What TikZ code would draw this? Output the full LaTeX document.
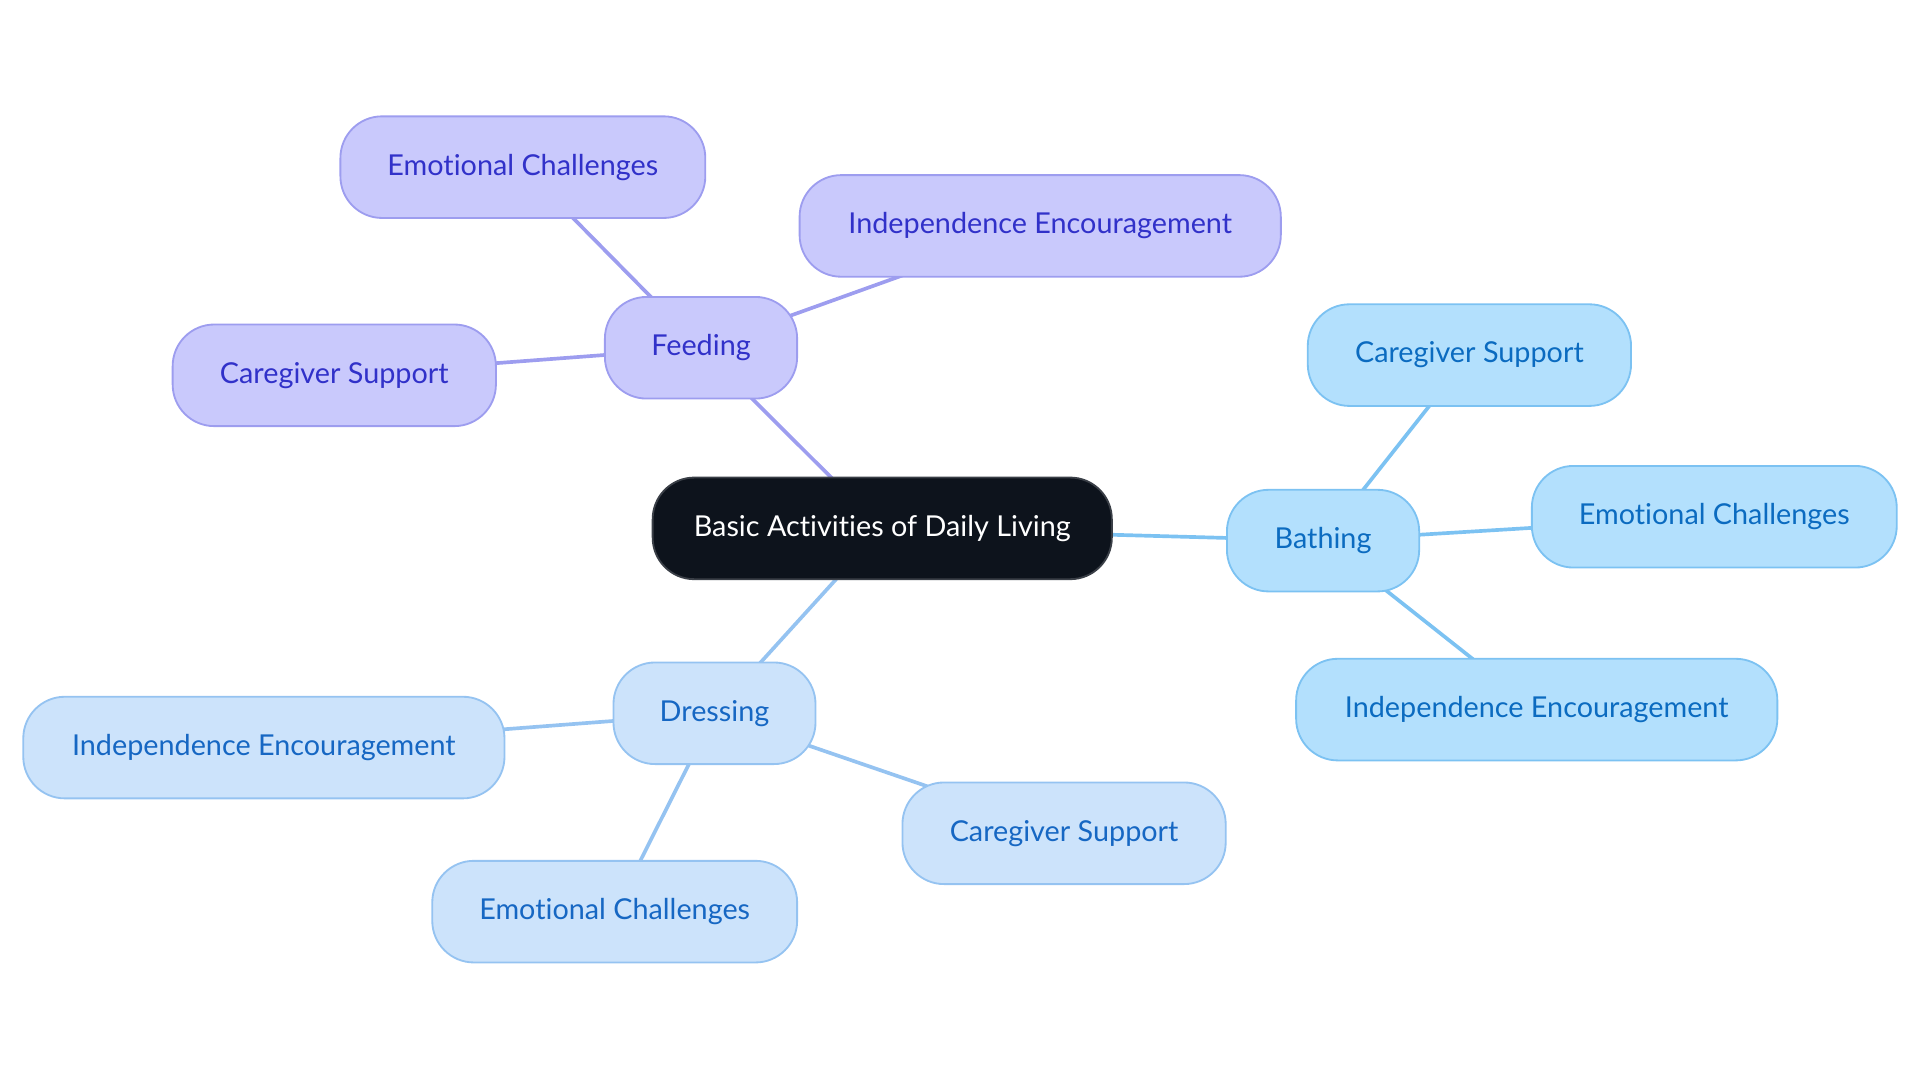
\documentclass[tikz,border=0pt]{standalone}
\usepackage{fontspec}
\setmainfont{Lato}[Ligatures=NoCommon]
\usetikzlibrary{backgrounds}
\definecolor{rootfill}{HTML}{0D131C}
\definecolor{rootdraw}{HTML}{3A3F47}
\definecolor{feedfill}{HTML}{C9C9FC}
\definecolor{feeddraw}{HTML}{9D9DEF}
\definecolor{feedtext}{HTML}{3131C9}
\definecolor{bathfill}{HTML}{B3E0FD}
\definecolor{bathdraw}{HTML}{7CC2F2}
\definecolor{bathtext}{HTML}{0B6BC0}
\definecolor{dressfill}{HTML}{CCE3FB}
\definecolor{dressdraw}{HTML}{95C3F1}
\definecolor{dresstext}{HTML}{1667C3}
\tikzset{
  base/.style={rounded corners=34pt, minimum height=83pt, inner sep=0pt, line width=1.5pt,
    font=\fontsize{23.5}{28}\selectfont},
  rootbox/.style={base, fill=rootfill, draw=rootdraw, text=white},
  feedbox/.style={base, fill=feedfill, draw=feeddraw, text=feedtext},
  bathbox/.style={base, fill=bathfill, draw=bathdraw, text=bathtext},
  dressbox/.style={base, fill=dressfill, draw=dressdraw, text=dresstext},
  feededge/.style={draw=feeddraw, line width=3pt},
  bathedge/.style={draw=bathdraw, line width=3pt},
  dressedge/.style={draw=dressdraw, line width=3pt}
}
\begin{document}
\begin{tikzpicture}[x=1pt,y=-1pt]
\useasboundingbox (0,0) rectangle (1568,884);
\node[rootbox, minimum width=375pt] (root) at (720.5,431.5) {Basic Activities of Daily Living};
% Feeding
\node[feedbox, minimum width=157pt] (feed) at (572.5,284) {Feeding};
\node[feedbox, minimum width=298pt] (feedemo) at (427,136.5) {Emotional Challenges};
\node[feedbox, minimum width=393pt] (feedind) at (849.5,184.5) {Independence Encouragement};
\node[feedbox, minimum width=264pt] (feedcare) at (273,306.5) {Caregiver Support};
% Bathing
\node[bathbox, minimum width=157pt] (bath) at (1080.5,441.5) {Bathing};
\node[bathbox, minimum width=264pt] (bathcare) at (1200,290) {Caregiver Support};
\node[bathbox, minimum width=298pt] (bathemo) at (1400,422) {Emotional Challenges};
\node[bathbox, minimum width=393pt] (bathind) at (1255,579.5) {Independence Encouragement};
% Dressing
\node[dressbox, minimum width=165pt] (dress) at (583.5,582.5) {Dressing};
\node[dressbox, minimum width=393pt] (dressind) at (215.5,610.5) {Independence Encouragement};
\node[dressbox, minimum width=264pt] (dresscare) at (869,680.5) {Caregiver Support};
\node[dressbox, minimum width=298pt] (dressemo) at (502,744.5) {Emotional Challenges};
\begin{scope}[on background layer]
\draw[feededge] (root.center) -- (feed.center);
\draw[feededge] (feed.center) -- (feedemo.center);
\draw[feededge] (feed.center) -- (feedind.center);
\draw[feededge] (feed.center) -- (feedcare.center);
\draw[bathedge] (root.center) -- (bath.center);
\draw[bathedge] (bath.center) -- (bathcare.center);
\draw[bathedge] (bath.center) -- (bathemo.center);
\draw[bathedge] (bath.center) -- (bathind.center);
\draw[dressedge] (root.center) -- (dress.center);
\draw[dressedge] (dress.center) -- (dressind.center);
\draw[dressedge] (dress.center) -- (dresscare.center);
\draw[dressedge] (dress.center) -- (dressemo.center);
\end{scope}
\end{tikzpicture}
\end{document}
